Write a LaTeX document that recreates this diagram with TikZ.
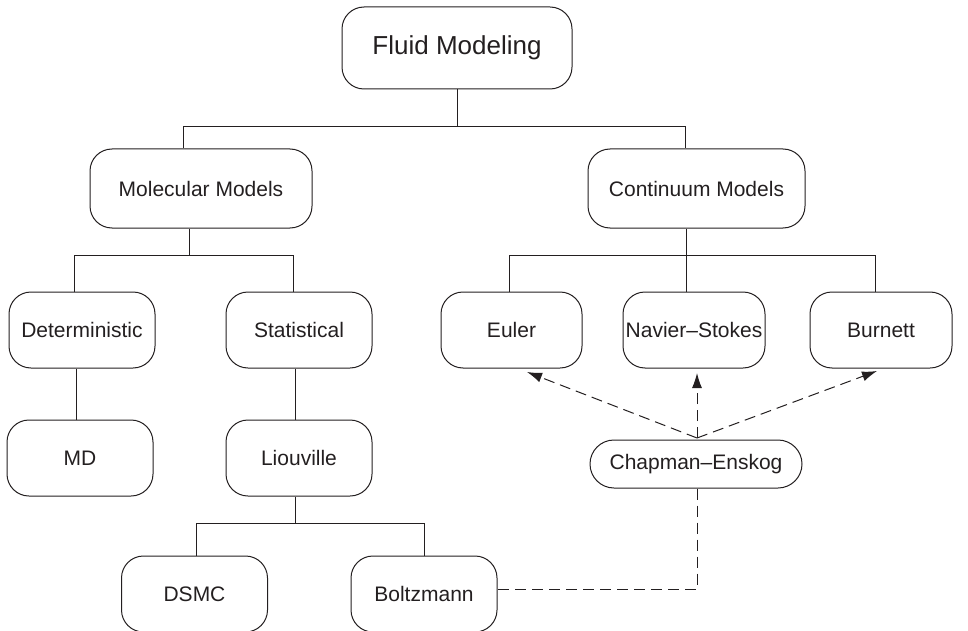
\documentclass[tikz,border=0pt]{standalone}
\usepackage{fontspec}
\setmainfont{Liberation Sans}
\usetikzlibrary{arrows.meta}
\definecolor{ink}{HTML}{231F20}
\begin{document}
\begin{tikzpicture}[x=1pt,y=-1pt,
  box/.style={draw=ink,line width=1pt,rounded corners=22pt,text=ink,
    inner sep=0pt,font=\fontsize{21}{25}\selectfont},
  link/.style={draw=ink,line width=1pt},
  dlink/.style={draw=ink,line width=1pt,dash pattern=on 11pt off 6pt},
  darrow/.style={dlink,-{Latex[length=15pt,width=10pt]}}]
\useasboundingbox (0,0) rectangle (968,631);
\node[box,minimum width=230pt,minimum height=82pt,font=\fontsize{26}{30}\selectfont] (fluid) at (457,48) {Fluid Modeling};
\node[box,minimum width=222pt,minimum height=79pt] (mol) at (201,188.5) {Molecular Models};
\node[box,minimum width=217pt,minimum height=79pt] (cont) at (696.5,188.5) {Continuum Models};
\node[box,minimum width=146pt,minimum height=76pt] (det) at (82,330) {Deterministic};
\node[box,minimum width=146pt,minimum height=76pt] (stat) at (299,330) {Statistical};
\node[box,minimum width=141pt,minimum height=76pt] (euler) at (511.5,330) {Euler};
\node[box,minimum width=142pt,minimum height=76pt] (ns) at (694,330) {Navier--Stokes};
\node[box,minimum width=142pt,minimum height=76pt] (burn) at (881,330) {Burnett};
\node[box,minimum width=146pt,minimum height=76pt] (md) at (80,458) {MD};
\node[box,minimum width=146pt,minimum height=76pt] (liou) at (299,458) {Liouville};
\node[box,minimum width=212pt,minimum height=48pt,rounded corners=24pt] (ce) at (696,464) {Chapman--Enskog};
\node[box,minimum width=146pt,minimum height=76pt] (dsmc) at (194.5,594) {DSMC};
\node[box,minimum width=146pt,minimum height=76pt] (boltz) at (424,594) {Boltzmann};
% bus coordinates
\coordinate (b1) at (183,127);
\coordinate (b2) at (685,127);
\coordinate (m0) at (189,255);
\coordinate (m1) at (74,255);
\coordinate (m2) at (293,255);
\coordinate (c0) at (686,255);
\coordinate (c1) at (509,255);
\coordinate (c2) at (875,255);
\coordinate (l0) at (295,523);
\coordinate (l1) at (196,523);
\coordinate (l2) at (424,523);
\draw[link] (fluid.south) -- (fluid.south |- b1);
\draw[link] (mol.north -| b1) -- (b1) -- (b2) -- (cont.north -| b2);
\draw[link] (mol.south -| m0) -- (m0);
\draw[link] (det.north -| m1) -- (m1) -- (m2) -- (stat.north -| m2);
\draw[link] (cont.south -| c0) -- (c0);
\draw[link] (euler.north -| c1) -- (c1) -- (c2) -- (burn.north -| c2);
\draw[link] (ns.north -| c0) -- (c0);
\draw[link] (det.south -| 76,0) -- (md.north -| 76,0);
\draw[link] (stat.south -| l0) -- (liou.north -| l0);
\draw[link] (liou.south -| l0) -- (l0);
\draw[link] (dsmc.north -| l1) -- (l1) -- (l2) -- (boltz.north -| l2);
% Chapman-Enskog arrows
\coordinate (ce0) at (697,438);
\coordinate (te) at (527,372);
\coordinate (tn) at (697,373);
\coordinate (tb) at (877,371);
\draw[darrow] (ce0) -- (te);
\draw[darrow] (ce0) -- (tn);
\draw[darrow] (ce0) -- (tb);
\coordinate (cb) at (697,589);
\draw[dlink] (ce.south -| cb) -- (cb) -- (boltz.east |- cb);
\end{tikzpicture}
\end{document}
